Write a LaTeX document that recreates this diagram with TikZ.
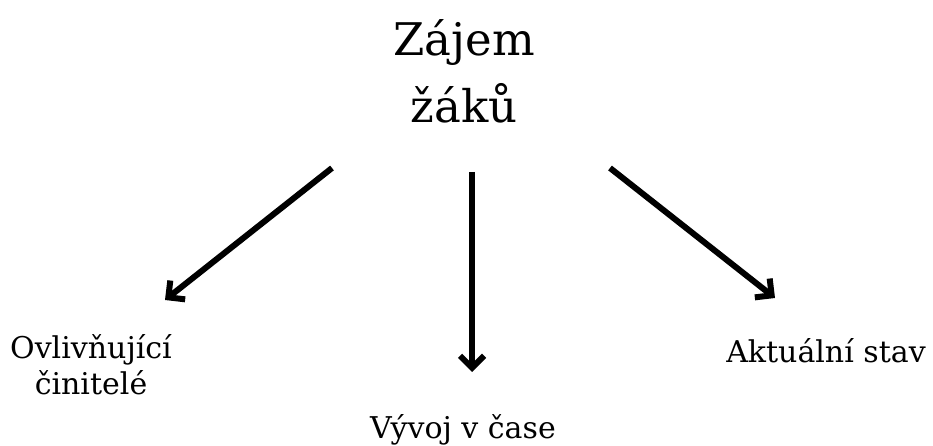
\documentclass[tikz,border=0pt]{standalone}
\usepackage{fontspec}
\setmainfont{DejaVu Serif}
\usetikzlibrary{arrows.meta}
\tikzset{
	pointer/.style={line width=6pt, -{Straight Barb[length=12pt,width=24pt]}},
	big/.style={font=\fontsize{45}{67}\selectfont, align=center, inner sep=0pt},
	small/.style={font=\fontsize{30}{36}\selectfont, align=center, inner sep=0pt}
}
\begin{document}
\begin{tikzpicture}[x=1pt, y=1pt]
			\useasboundingbox (0,0) rectangle (933,446);
			% Title
			\node[big, anchor=north] (zajem) at (464,427) {Zájem\\žáků};
			% Labels
			\node[small, anchor=north] (vlivy) at (91,112) {Ovlivňující\\činitelé};
			\node[small, anchor=north] (vyvoj) at (463,32) {Vývoj v čase};
			\node[small, anchor=north] (stav) at (826,108) {Aktuální stav};
			% Arrow ends
			\coordinate (a1) at (332,278);
			\coordinate (b1) at (165,146);
			\coordinate (a2) at (472,274);
			\coordinate (b2) at (472,74);
			\coordinate (a3) at (610,278);
			\coordinate (b3) at (775,148);
			% Draw arrows
			\draw[pointer] (a1) -- (b1);
			\draw[pointer] (a2) -- (b2);
			\draw[pointer] (a3) -- (b3);
		\end{tikzpicture}
\end{document}
